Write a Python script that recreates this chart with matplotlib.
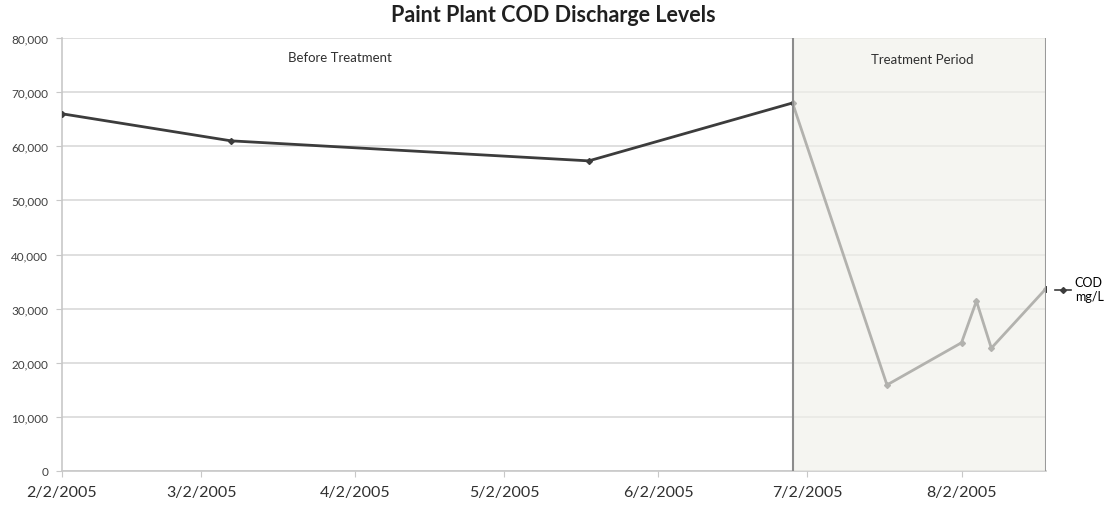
import datetime as dt
import matplotlib.pyplot as plt
import matplotlib.dates as mdates
from matplotlib.ticker import FuncFormatter

plt.rcParams['font.family'] = ['Lato', 'DejaVu Sans']

dates = ['2005-02-02', '2005-03-08', '2005-05-19', '2005-06-29', '2005-07-18',
         '2005-08-02', '2005-08-05', '2005-08-08', '2005-08-19']
cod = [66000, 61000, 57300, 68000, 15900, 23700, 31400, 22700, 33700]
tick_dates = ['2005-02-02', '2005-03-02', '2005-04-02', '2005-05-02',
              '2005-06-02', '2005-07-02', '2005-08-02']
treatment_start = '2005-06-29'

x = [dt.datetime.strptime(d, '%Y-%m-%d') for d in dates]
ticks = [dt.datetime.strptime(d, '%Y-%m-%d') for d in tick_dates]
t0 = dt.datetime.strptime(treatment_start, '%Y-%m-%d')

fig = plt.figure(figsize=(11.06, 5.06), dpi=100)
ax = fig.add_axes([62 / 1106, 34 / 506, 984 / 1106, 433 / 506])

ax.plot(x, cod, color='#3c3c3c', lw=2.0, marker='D', ms=3, zorder=3, label='COD\nmg/L')

# treatment window washes out the line underneath
ax.axvspan(t0, x[-1], color='#f1f0ea', alpha=0.66, lw=0, zorder=4)
ax.axvline(t0, color='#8c8c8c', lw=1.5, zorder=5)
ax.axvline(x[-1], color='#9a9a9a', lw=1.5, zorder=5)

ax.set_xlim(x[0], x[-1])
ax.set_ylim(0, 80000)
ax.set_yticks(range(0, 80001, 10000))
ax.yaxis.set_major_formatter(FuncFormatter(lambda v, p: f'{int(v):,}'))
ax.set_xticks(ticks)
ax.xaxis.set_major_formatter(FuncFormatter(
    lambda v, p: (lambda d: f'{d.month}/{d.day}/{d.year}')(mdates.num2date(v))))

ax.grid(axis='y', color='#d9d9d9', lw=1.2, zorder=0)
for s in ['top', 'right']:
    ax.spines[s].set_visible(False)
for s in ['left', 'bottom']:
    ax.spines[s].set_color('#c8c8c8')
    ax.spines[s].set_linewidth(1.2)
ax.tick_params(axis='y', labelsize=8.5, colors='#c8c8c8', labelcolor='#404040', length=4, pad=6)
ax.tick_params(axis='x', labelsize=11.5, colors='#c8c8c8', labelcolor='#303030', length=4, pad=6)

ax.text(dt.datetime(2005, 3, 30), 76500, 'Before Treatment', fontsize=9.5,
        color='#303030', ha='center', va='center', zorder=6)
ax.text(dt.datetime(2005, 7, 25), 76200, 'Treatment Period', fontsize=9.5,
        color='#303030', ha='center', va='center', zorder=6)

fig.suptitle('Paint Plant COD Discharge Levels', fontsize=15.5, fontweight='bold',
             color='#202020', y=0.99)

leg = ax.legend(loc='center left', bbox_to_anchor=(1.0, 0.42), frameon=False,
                fontsize=9, handlelength=1.3, handletextpad=0.3, borderaxespad=0.3)
for h in leg.legend_handles:
    h.set_linewidth(1.2)

fig.savefig('out.png', dpi=100)
